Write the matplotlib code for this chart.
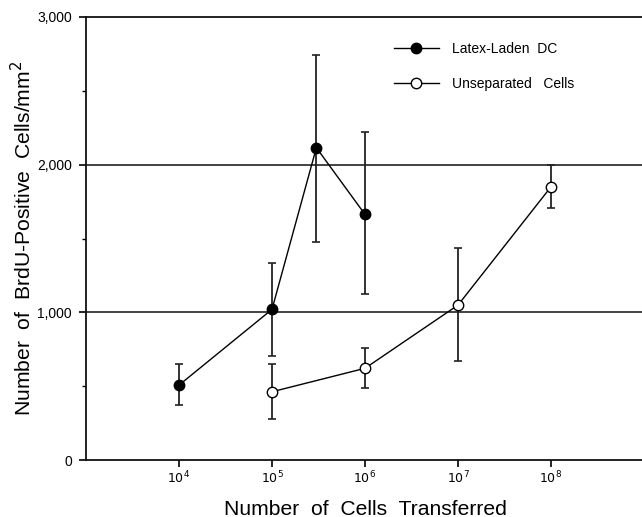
import numpy as np
import matplotlib
matplotlib.use("Agg")
import matplotlib.pyplot as plt
from matplotlib.ticker import FixedLocator, NullLocator

plt.rcParams['font.family'] = ['Liberation Sans', 'DejaVu Sans']

# Latex-laden DC
dc_x = [1e4, 1e5, 3e5, 1e6]
dc_y = [507, 1020, 2115, 1663]
dc_lo = [372, 704, 1478, 1124]
dc_hi = [648, 1332, 2746, 2218]

# Unseparated cells
un_x = [1e5, 1e6, 1e7, 1e8]
un_y = [462, 621, 1049, 1850]
un_lo = [278, 489, 670, 1708]
un_hi = [648, 760, 1433, 1997]

xticks = [1e4, 1e5, 1e6, 1e7, 1e8]
xticklabels = ['$10^{4}$', '$10^{5}$', '$10^{6}$', '$10^{7}$', '$10^{8}$']
yticks = [0, 1000, 2000, 3000]
yticklabels = ['0', '1,000', '2,000', '3,000']

W, H = 642, 517
fig = plt.figure(figsize=(W / 100, H / 100), dpi=100)
# axes: left spine x=86, bottom y=460, top y=17, right beyond the image edge
ax = fig.add_axes([86 / W, (H - 460) / H, (644 - 86) / W, (460 - 17) / H])

ax.set_xscale('log')
ax.set_xlim(1e3, 1e9)
ax.set_ylim(0, 3000)

for v in [1000, 2000]:
    ax.axhline(v, color='#222222', lw=1.2, zorder=1)

def yerr(y, lo, hi):
    y = np.array(y)
    return [y - np.array(lo), np.array(hi) - y]

ax.errorbar(dc_x, dc_y, yerr=yerr(dc_y, dc_lo, dc_hi), fmt='none',
            ecolor='#222222', elinewidth=1.3, capsize=3, capthick=1.2, zorder=2)
ax.errorbar(un_x, un_y, yerr=yerr(un_y, un_lo, un_hi), fmt='none',
            ecolor='#222222', elinewidth=1.3, capsize=3, capthick=1.2, zorder=2)

ax.plot(dc_x, dc_y, '-o', color='black', lw=1.0, ms=7.5,
        mfc='black', mec='black', zorder=3, label='Latex-Laden  DC')
ax.plot(un_x, un_y, '-o', color='black', lw=1.0, ms=7.5,
        mfc='white', mec='black', mew=1.0, zorder=3, label='Unseparated   Cells')

ax.xaxis.set_major_locator(FixedLocator(xticks))
ax.xaxis.set_minor_locator(NullLocator())
ax.set_xticks(xticks)
ax.set_xticklabels(xticklabels)
ax.set_yticks(yticks)
ax.set_yticklabels(yticklabels)
ax.yaxis.set_minor_locator(FixedLocator([500, 1500, 2500]))

ax.tick_params(axis='x', direction='out', length=5, width=1.2, labelsize=9, pad=2)
ax.tick_params(axis='y', which='major', direction='out', length=5, width=1.2, labelsize=10, pad=5)
ax.tick_params(axis='y', which='minor', direction='out', length=3, width=1.0)

for s in ['left', 'bottom', 'top']:
    ax.spines[s].set_linewidth(1.3)
    ax.spines[s].set_color('#111111')
ax.spines['right'].set_visible(False)

ax.set_xlabel('Number  of  Cells  Transferred', fontsize=15.2, labelpad=9.5)
ax.set_ylabel('Number  of  BrdU-Positive  Cells/mm$^2$', fontsize=15.2, labelpad=1.5)

ax.legend(loc='upper left', bbox_to_anchor=((388 - 86) / 558, 1 - (36 - 17) / 443),
          frameon=False, fontsize=10, handlelength=3.3, handletextpad=0.9,
          labelspacing=1.55, borderaxespad=0)

fig.savefig('out.png', dpi=100)
